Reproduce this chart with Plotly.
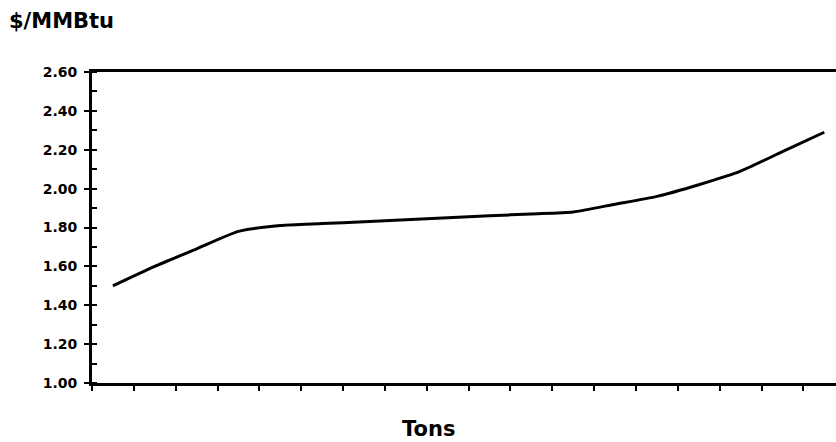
import plotly.graph_objects as go

# Data
tons_index = list(range(18))  # category positions (unlabelled on the x axis)
price_per_mmbtu = [1.50, 1.60, 1.69, 1.78, 1.81, 1.82, 1.83, 1.84, 1.85,
                   1.86, 1.87, 1.88, 1.92, 1.96, 2.02, 2.09, 2.19, 2.29]
y_tick_values = [1.00, 1.20, 1.40, 1.60, 1.80, 2.00, 2.20, 2.40, 2.60]
y_tick_labels = ["1.00", "1.20", "1.40", "1.60", "1.80", "2.00", "2.20", "2.40", "2.60"]

FONT = "DejaVu Sans"

fig = go.Figure()
fig.add_trace(go.Scatter(
    x=tons_index, y=price_per_mmbtu, mode="lines",
    line=dict(color="black", width=3, shape="spline", smoothing=0.6),
    showlegend=False, hoverinfo="skip",
))

fig.update_layout(
    width=836, height=442,
    margin=dict(l=92, r=0, t=72, b=59),
    paper_bgcolor="white", plot_bgcolor="white",
    xaxis=dict(
        range=[-0.5, 17.28], showgrid=False, zeroline=False,
        showline=True, linecolor="black", linewidth=3, mirror=True,
        ticks="outside", ticklen=5, tickwidth=1.5, tickcolor="black",
        tick0=-0.5, dtick=1, showticklabels=False,
    ),
    yaxis=dict(
        range=[1.0, 2.6], showgrid=False, zeroline=False,
        showline=True, linecolor="black", linewidth=3,
        tickmode="array", tickvals=y_tick_values, ticktext=y_tick_labels,
        ticks="outside", ticklen=5, tickwidth=1.5, tickcolor="black",
        ticklabelstandoff=4,
        tickfont=dict(family=FONT, size=14, color="black", weight="bold"),
        minor=dict(ticks="inside", ticklen=5, tickwidth=1.5, tickcolor="black", dtick=0.1),
    ),
    annotations=[
        dict(text="$/MMBtu", xref="paper", yref="paper", x=-92/744, y=1 + (72 - 21) / 311,
             xanchor="left", yanchor="middle", xshift=7, showarrow=False,
             font=dict(family=FONT, size=21, color="black", weight="bold")),
        dict(text="Tons", xref="paper", yref="paper", x=(428 - 92) / 744, y=-(429 - 383) / 311,
             xanchor="center", yanchor="middle", showarrow=False,
             font=dict(family=FONT, size=21, color="black", weight="bold")),
    ],
)

fig.write_html("out.html", config={"displayModeBar": False},
               post_script="document.body.style.margin='0';")
